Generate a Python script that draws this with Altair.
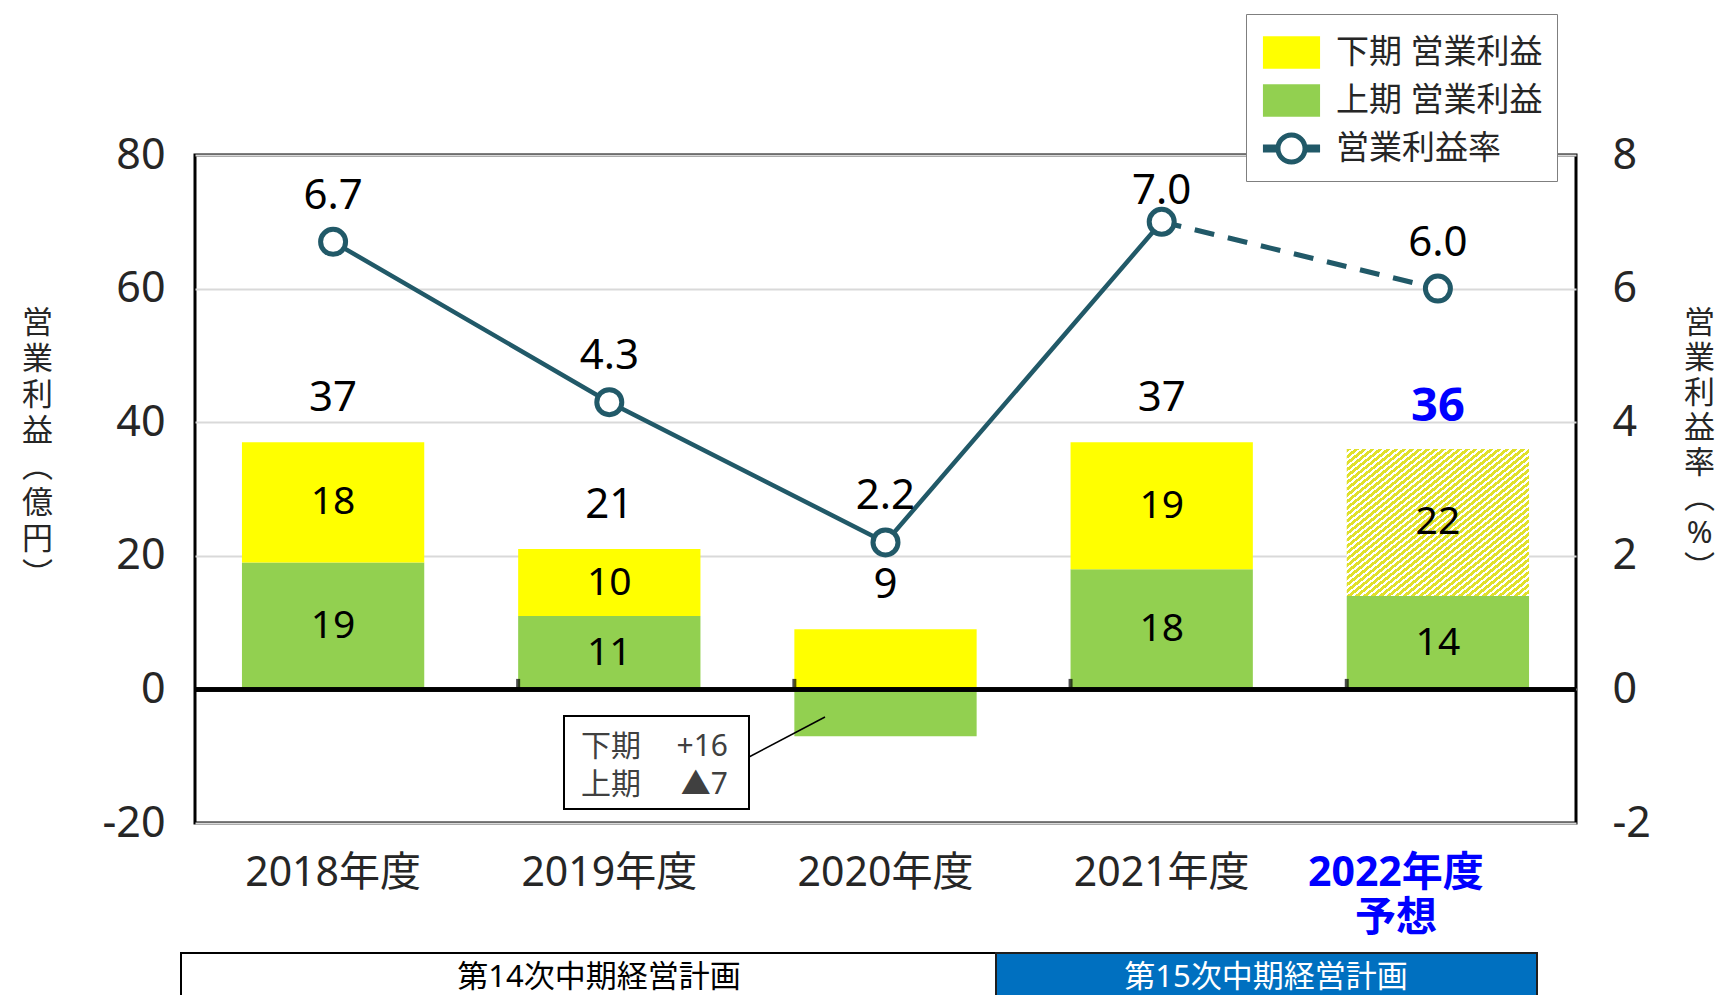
import altair as alt
import pandas as pd

# ---------------- data ----------------
years = ["2018年度", "2019年度", "2020年度", "2021年度", "2022年度"]
first_half = [19, 11, -7, 18, 14]        # 上期 営業利益 (億円)
second_half = [18, 10, 16, 19, 22]       # 下期 営業利益 (億円)
margin_rate = [6.7, 4.3, 2.2, 7.0, 6.0]  # 営業利益率 (%)
is_forecast = [False, False, False, False, True]
show_segment_labels = [True, True, False, True, True]

forecast_note = "予想"
series_names = ["下期 営業利益", "上期 営業利益", "営業利益率"]
left_title_chars = ["営", "業", "利", "益", "︵", "億", "円", "︶"]
right_title_chars = ["営", "業", "利", "益", "率", "︵", "%", "︶"]
left_ticks = [-20, 0, 20, 40, 60, 80]
right_ticks = [-2, 0, 2, 4, 6, 8]
callout_names = ["下期", "上期"]
callout_values = ["+16", "▲7"]
plan_names = ["第14次中期経営計画", "第15次中期経営計画"]

# ---------------- styles ----------------
FONT = "Noto Sans, Noto Sans CJK JP"
YELLOW = "#FFFF00"
GREEN = "#92D050"
TEAL = "#215968"
HATCH = "#E0E02A"
BLUE = "#0000FF"
AXIS_TXT = "#262626"
W, H = 1381, 668

last_actual = max(i for i, f in enumerate(is_forecast) if not f)
df = pd.DataFrame({
    "year": years,
    "h1": first_half,
    "h2": second_half,
    "rate": margin_rate,
    "forecast": is_forecast,
    "seglab": show_segment_labels,
    "dashed": [f or i == last_actual for i, f in enumerate(is_forecast)],
})

base = alt.Chart(df).transform_calculate(
    total="datum.h1 + datum.h2",
    base2="max(datum.h1, 0)",
    mid1="datum.h1 / 2",
).transform_calculate(
    mid2="(datum.base2 + datum.total) / 2"
)

fy = years[is_forecast.index(True)]
is_fy = f"datum.value === '{fy}'"

x_axis = alt.Axis(
    title=None, domain=False, ticks=False, grid=False, labelAngle=0,
    labelFont=FONT, labelFontSize=41, labelPadding=30, labelLineHeight=45,
    labelExpr=f"{is_fy} ? ['{fy}', '{forecast_note}'] : datum.value",
    labelColor={"condition": {"test": is_fy, "value": BLUE}, "value": AXIS_TXT},
    labelFontWeight={"condition": {"test": is_fy, "value": "bold"}, "value": "normal"},
    labelOffset={"condition": {"test": is_fy, "value": -42}, "value": 0},
)
xscale = alt.Scale(paddingInner=0.34, paddingOuter=0.17)


def X(axis=None, **kw):
    if axis is None:
        return alt.X("year:N", sort=years, scale=xscale, **kw)
    return alt.X("year:N", sort=years, scale=xscale, axis=axis, **kw)


def YL(field=None, axis=None, **kw):
    sc = alt.Scale(domain=[-20, 80], nice=False, zero=False)
    if field is None:
        return alt.Y(scale=sc, axis=axis, **kw)
    return alt.Y(field, scale=sc, axis=axis, **kw)


def YR(field, axis=None):
    return alt.Y(field, scale=alt.Scale(domain=[-2, 8], nice=False, zero=False), axis=axis)


left_axis = alt.Axis(
    orient="left", values=left_ticks, ticks=False, domain=False, grid=True,
    gridColor="#D9D9D9", gridWidth=2, labelExpr="datum.value + ''",
    labelFont=FONT, labelFontSize=43, labelColor=AXIS_TXT, labelPadding=30,
    title=left_title_chars, titleAngle=0, titleFont=FONT, titleFontSize=31,
    titleFontWeight="normal", titleColor=AXIS_TXT, titleLineHeight=36,
    titleX=-158, titleY=168, titleAlign="center", titleBaseline="middle",
)
right_axis = alt.Axis(
    orient="right", values=right_ticks, ticks=False, domain=False, grid=False,
    labelExpr="datum.value + ''",
    labelFont=FONT, labelFontSize=43, labelColor=AXIS_TXT, labelPadding=36,
    title=right_title_chars, titleAngle=0, titleFont=FONT, titleFontSize=31,
    titleFontWeight="normal", titleColor=AXIS_TXT, titleLineHeight=35,
    titleX=123, titleY=168, titleAlign="center", titleBaseline="middle",
)

# hatch pattern for the forecast 下期 segment (diagonal stripes)
n_stripes = 46
stops = []
for k in range(n_stripes):
    a = k / n_stripes
    m = (k + 0.58) / n_stripes
    b = (k + 1) / n_stripes
    stops += [
        alt.GradientStop(offset=a, color=HATCH),
        alt.GradientStop(offset=m, color=HATCH),
        alt.GradientStop(offset=m, color="#FFFFFF"),
        alt.GradientStop(offset=b, color="#FFFFFF"),
    ]
hatch = alt.LinearGradient(gradient="linear", stops=stops, x1=0, y1=0, x2=1, y2=1)

# ---------------- left (億円) layers ----------------
green_bars = base.mark_bar(color=GREEN).encode(
    x=X(axis=x_axis), y=YL("h1:Q", axis=left_axis), y2=alt.datum(0),
)
yellow_bars = base.transform_filter("!datum.forecast").mark_bar(color=YELLOW).encode(
    x=X(), y=YL("base2:Q"), y2="total:Q"
)
hatch_bars = base.transform_filter("datum.forecast").mark_bar(color=hatch).encode(
    x=X(), y=YL("base2:Q"), y2="total:Q"
)
zero_line = base.mark_rule(color="black", strokeWidth=4).encode(y=YL(datum=0))
zero_ticks = base.transform_filter(f"datum.year !== '{years[0]}'").mark_tick(
    orient="vertical", size=9, thickness=4, color="black", yOffset=-6
).encode(x=X(bandPosition=0), y=YL(datum=0))
seg_text = dict(font=FONT, fontSize=39, color="black", baseline="middle")
lab_h1 = base.transform_filter("datum.seglab").mark_text(**seg_text).encode(
    x=X(), y=YL("mid1:Q"), text="h1:Q"
)
lab_h2 = base.transform_filter("datum.seglab").mark_text(**seg_text).encode(
    x=X(), y=YL("mid2:Q"), text="h2:Q"
)
lab_total = base.transform_filter("!datum.forecast").mark_text(
    font=FONT, fontSize=42, color="black", baseline="middle", dy=-44
).encode(x=X(), y=YL("total:Q"), text="total:Q")
lab_total_fc = base.transform_filter("datum.forecast").mark_text(
    font=FONT, fontSize=47, fontWeight="bold", color=BLUE, baseline="middle", dy=-42
).encode(x=X(), y=YL("total:Q"), text="total:Q")

# ---------------- right (%) layers ----------------
line_solid = base.transform_filter("!datum.forecast").mark_line(
    color=TEAL, strokeWidth=4.5
).encode(x=X(), y=YR("rate:Q", axis=right_axis))
line_dash = base.transform_filter("datum.dashed").mark_line(
    color=TEAL, strokeWidth=5, strokeDash=[20, 14]
).encode(x=X(), y=YR("rate:Q"))
points = base.mark_point(
    filled=True, fill="white", stroke=TEAL, strokeWidth=5, size=625, opacity=1
).encode(x=X(), y=YR("rate:Q"))
rate_lab = base.transform_filter("datum.rate < 7").mark_text(
    font=FONT, fontSize=42, color="black", baseline="middle", dy=-46
).encode(x=X(), y=YR("rate:Q"), text=alt.Text("rate:Q", format=".1f"))
rate_lab_top = base.transform_filter("datum.rate >= 7").mark_text(
    font=FONT, fontSize=42, color="black", baseline="middle", dy=-31
).encode(x=X(), y=YR("rate:Q"), text=alt.Text("rate:Q", format=".1f"))

# ---------------- legend (single merged legend) ----------------
rect_path = "M-1.19,-0.68H1.19V0.68H-1.19Z"
rate_path = ("M-1.19,-0.17H-0.6V0.17H-1.19Z M0.6,-0.17H1.19V0.17H0.6Z "
             "M0.67,0A0.67,0.67 0 1 1 -0.67,0A0.67,0.67 0 1 1 0.67,0Z "
             "M0.46,0A0.46,0.46 0 1 0 -0.46,0A0.46,0.46 0 1 0 0.46,0Z")
legend_cfg = dict(
    title=None, orient="none", legendX=1051, legendY=-141,
    strokeColor="#7F7F7F", fillColor="white", padding=14, rowPadding=5,
    symbolSize=2304, symbolOpacity=1, symbolStrokeColor="#404040",
    symbolStrokeWidth=1, symbolOffset=7, labelFont=FONT, labelFontSize=33,
    labelColor=AXIS_TXT, labelOffset=20, labelLimit=400,
)
legend_layer = alt.Chart(pd.DataFrame({"series": series_names})).mark_point(
    filled=True, opacity=0
).encode(
    color=alt.Color("series:N", scale=alt.Scale(domain=series_names, range=[YELLOW, GREEN, TEAL]),
                    legend=alt.Legend(**legend_cfg)),
    shape=alt.Shape("series:N", scale=alt.Scale(domain=series_names, range=[rect_path, rect_path, rate_path]),
                    legend=alt.Legend(**legend_cfg)),
)

# ---------------- callout annotation ----------------
one = pd.DataFrame({"k": [0]})
callout_box = alt.Chart(one).mark_rect(fill="white", stroke="black", strokeWidth=2).encode(
    x=alt.value(369), x2=alt.value(554), y=alt.value(561), y2=alt.value(654)
)
callout_line = alt.Chart(one).mark_rule(color="black", strokeWidth=1.5).encode(
    x=alt.value(554), y=alt.value(602), x2=alt.value(630), y2=alt.value(562)
)
callout_txt = dict(font=FONT, fontSize=30, color="#404040", baseline="middle", lineHeight=38)
callout_names_t = alt.Chart(one).mark_text(align="left", **callout_txt).encode(
    x=alt.value(386), y=alt.value(592), text=alt.value(callout_names)
)
callout_vals_t = alt.Chart(one).mark_text(align="right", **callout_txt).encode(
    x=alt.value(533), y=alt.value(592), text=alt.value(callout_values)
)

# ---------------- mid-term plan banner ----------------
plan14_box = alt.Chart(one).mark_rect(fill="white", stroke="black", strokeWidth=2).encode(
    x=alt.value(-14), x2=alt.value(801), y=alt.value(798), y2=alt.value(860)
)
plan15_box = alt.Chart(one).mark_rect(fill="#0070C0", stroke="#1F1F1F", strokeWidth=2).encode(
    x=alt.value(801), x2=alt.value(1342), y=alt.value(798), y2=alt.value(860)
)
plan14_t = alt.Chart(one).mark_text(font=FONT, fontSize=31, color="black", baseline="middle").encode(
    x=alt.value(404), y=alt.value(823), text=alt.value(plan_names[0])
)
plan15_t = alt.Chart(one).mark_text(font=FONT, fontSize=31, color="white", baseline="middle").encode(
    x=alt.value(1071), y=alt.value(823), text=alt.value(plan_names[1])
)

chart = alt.layer(
    green_bars, yellow_bars, hatch_bars, zero_line, zero_ticks,
    lab_h1, lab_h2, lab_total, lab_total_fc,
    line_solid, line_dash, points, rate_lab, rate_lab_top,
    legend_layer,
    callout_line, callout_box, callout_names_t, callout_vals_t,
    plan14_box, plan15_box, plan14_t, plan15_t,
).resolve_scale(y="independent").properties(
    width=W, height=H,
    padding={"left": 187, "top": 147, "right": 140, "bottom": 172},
    autosize=alt.AutoSizeParams(type="none"),
    background="white",
).configure_view(stroke="black", strokeWidth=3)

chart.save("out.html", embed_options={"renderer": "svg", "actions": False})
